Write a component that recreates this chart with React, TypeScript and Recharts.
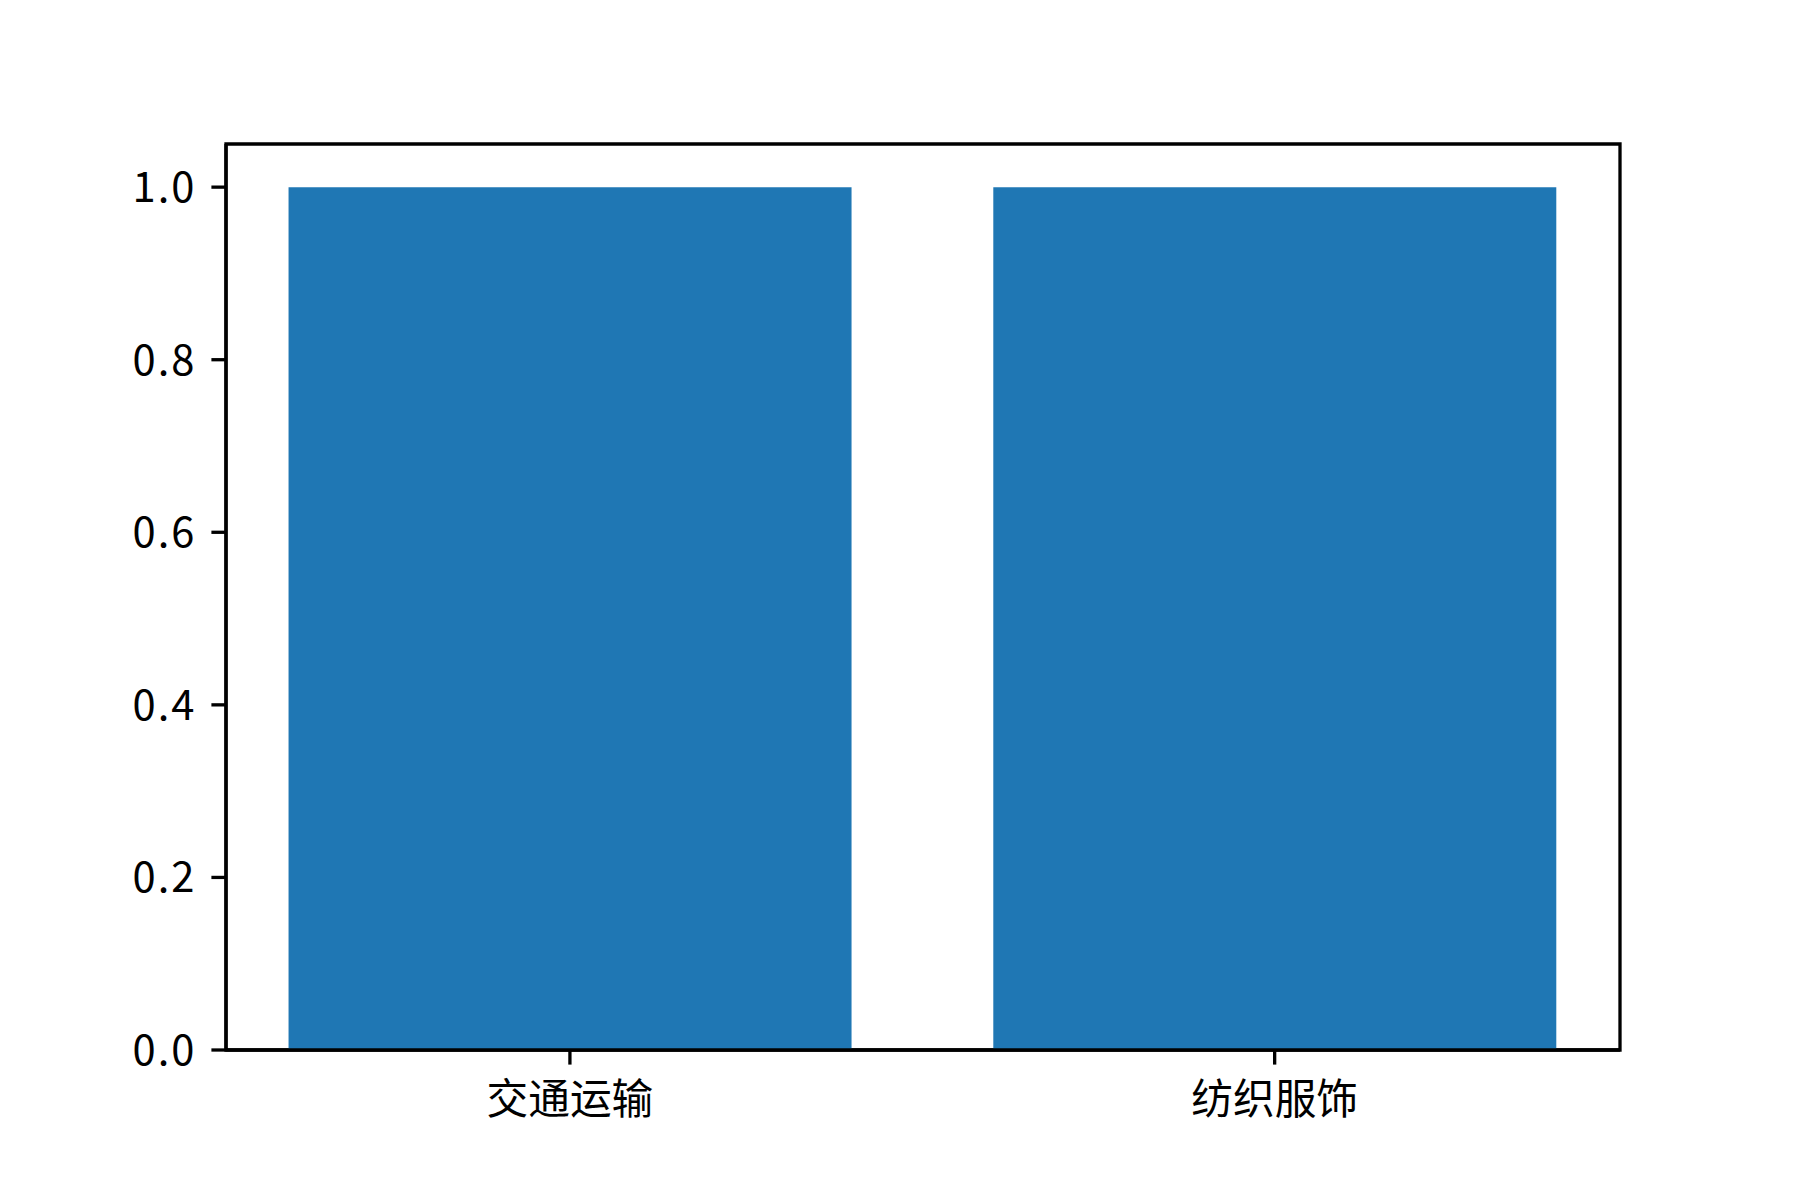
import { Bar, BarChart, ReferenceArea, XAxis, YAxis } from 'recharts';

const categories = ['交通运输', '纺织服饰'];
const values = [1.0, 1.0];
const yTicks = [0, 0.2, 0.4, 0.6, 0.8, 1.0];

const BAR_COLOR = '#1f77b4';
const FONT = '"Noto Sans CJK SC", "DejaVu Sans", sans-serif';

const data = categories.map((name, i) => ({ x: i, name, value: values[i] }));

export default function App() {
  const tickStyle = { fontSize: 41.7, fill: '#000', fontFamily: FONT };
  return (
    <div style={{ position: 'absolute', left: 0, top: 0, width: 1800, height: 1200, background: '#fff' }}>
      <BarChart
        width={1800}
        height={1200}
        data={data}
        margin={{ top: 144, right: 180, bottom: 0, left: 0 }}
      >
        <XAxis
          dataKey="x"
          type="number"
          domain={[-0.488, 1.49]}
          ticks={[0, 1]}
          interval={0}
          tickFormatter={(i: number) => categories[i] ?? ''}
          height={150}
          tick={tickStyle}
          tickSize={14.6}
          tickMargin={20}
          tickLine={{ stroke: '#000', strokeWidth: 3.3 }}
          axisLine={{ stroke: '#000', strokeWidth: 3.3 }}
        />
        <YAxis
          type="number"
          domain={[0, 1.05]}
          ticks={yTicks}
          interval={0}
          allowDataOverflow
          tickFormatter={(v: number) => v.toFixed(1)}
          width={226}
          tick={{ ...tickStyle, letterSpacing: 2 }}
          tickSize={14.6}
          tickMargin={15}
          tickLine={{ stroke: '#000', strokeWidth: 3.3 }}
          axisLine={{ stroke: '#000', strokeWidth: 3.3 }}
        />
        <Bar dataKey="value" fill={BAR_COLOR} barSize={563} isAnimationActive={false} />
        <ReferenceArea
          x1={-0.488}
          x2={1.49}
          y1={0}
          y2={1.05}
          fill="none"
          stroke="#000"
          strokeWidth={3.3}
          ifOverflow="extendDomain"
        />
      </BarChart>
    </div>
  );
}
